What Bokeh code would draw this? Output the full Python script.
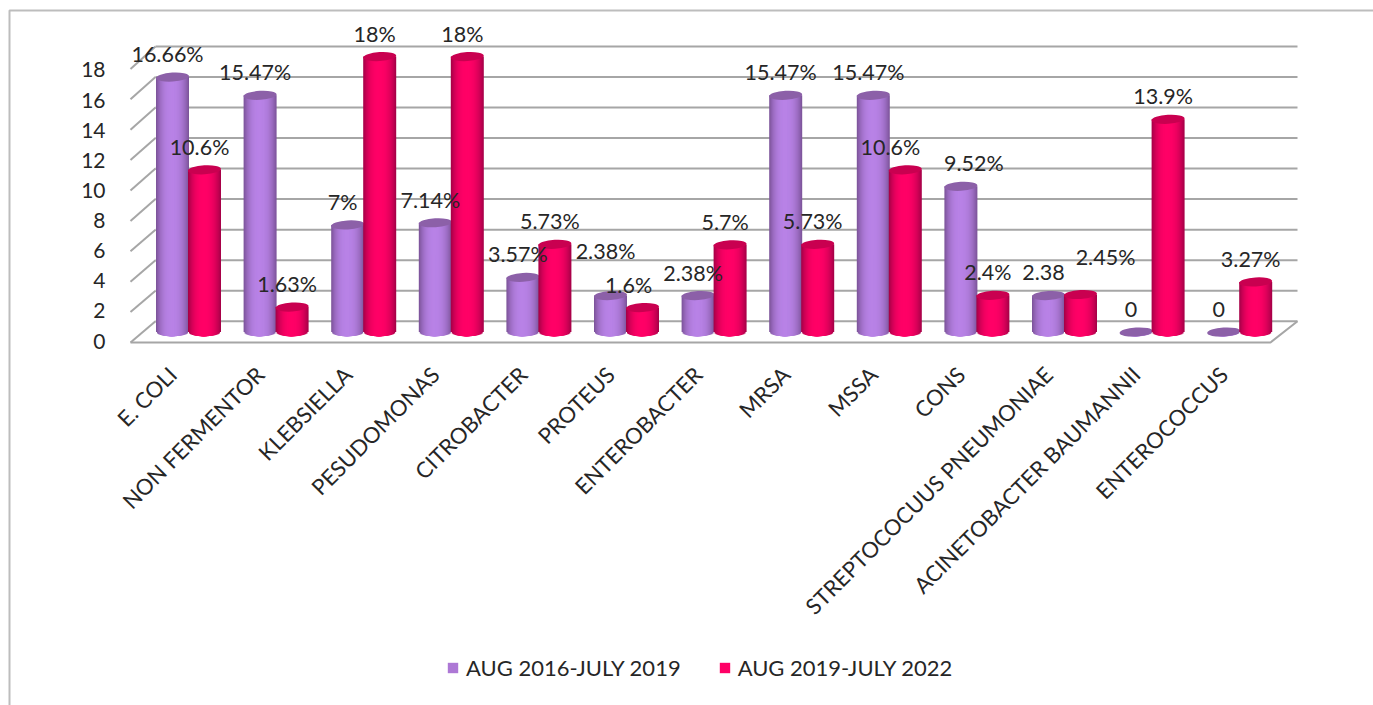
import numpy as np
from bokeh.core.properties import value
from bokeh.embed import file_html
from bokeh.models import (ColumnDataSource, FixedTicker, Legend, LegendItem, LinearAxis, Range1d)
from bokeh.plotting import figure
from bokeh.resources import INLINE

categories = ["E. COLI", "NON FERMENTOR", "KLEBSIELLA", "PESUDOMONAS", "CITROBACTER",
              "PROTEUS", "ENTEROBACTER", "MRSA", "MSSA", "CONS",
              "STREPTOCOCUUS PNEUMONIAE", "ACINETOBACTER BAUMANNII", "ENTEROCOCCUS"]
series_2016 = [16.66, 15.47, 7, 7.14, 3.57, 2.38, 2.38, 15.47, 15.47, 9.52, 2.38, 0, 0]
series_2019 = [10.6, 1.63, 18, 18, 5.73, 1.6, 5.7, 5.73, 10.6, 2.4, 2.45, 13.9, 3.27]
labels_2016 = ["16.66%", "15.47%", "7%", "7.14%", "3.57%", "2.38%", "2.38%", "15.47%",
               "15.47%", "9.52%", "2.38", "0", "0"]
labels_2019 = ["10.6%", "1.63%", "18%", "18%", "5.73%", "1.6%", "5.7%", "5.73%",
               "10.6%", "2.4%", "2.45%", "13.9%", "3.27%"]
name_2016 = "AUG 2016-JULY 2019"
name_2019 = "AUG 2019-JULY 2022"
y_ticks = list(range(0, 20, 2))

FONT = "Lato"
TEXT = "#262626"
GRID = "#a6a6a6"

# The plot frame fills the page, so all ranges below are anchored to page pixels
W, H = 1373, 705
GROUP0, GROUP_STEP = 188.0, 87.6
BASE_PX, UNIT_PX = 331.5, 15.3

p = figure(width=W, height=H, output_backend="svg", toolbar_location=None,
           x_range=Range1d(-GROUP0 / GROUP_STEP, (W - GROUP0) / GROUP_STEP),
           y_range=Range1d((BASE_PX - H) / UNIT_PX, BASE_PX / UNIT_PX),
           x_axis_type=None, y_axis_type=None, min_border=0, outline_line_color=None,
           background_fill_color="white", border_fill_color="white")
p.grid.visible = False

p.extra_x_ranges["px"] = Range1d(0, W)
p.extra_y_ranges["px"] = Range1d(H, 0)
p.extra_y_ranges["front"] = Range1d((340.5 - H) / 15.06, 340.5 / 15.06)
CAT_SHIFT = 16
p.extra_x_ranges["cat"] = Range1d((CAT_SHIFT - GROUP0) / GROUP_STEP, (W + CAT_SHIFT - GROUP0) / GROUP_STEP)


def back_y(v):
    return 320.7 - v * 15.26


def front_y(v):
    return 342.0 - v * 15.2


BACK_L, BACK_R, FRONT_L, FRONT_R = 155, 1297, 130, 1270

# Outer chart frame: its top and left edges are the ones inside the page
p.line([W, 9, 9], [10, 10, H], x_range_name="px", y_range_name="px", line_color="#bdbdbd", line_width=2)

# Back wall and side wall lines
ticks = np.array(y_ticks, dtype=float)
p.segment(x0=[BACK_L] * len(ticks), x1=[BACK_R] * len(ticks), y0=back_y(ticks), y1=back_y(ticks),
          x_range_name="px", y_range_name="px", line_color=GRID, line_width=2)
p.segment(x0=[FRONT_L] * len(ticks), x1=[BACK_L] * len(ticks), y0=front_y(ticks), y1=back_y(ticks),
          x_range_name="px", y_range_name="px", line_color=GRID, line_width=2)
# Floor
p.line([FRONT_L, FRONT_R, BACK_R], [front_y(0), front_y(0), back_y(0)],
       x_range_name="px", y_range_name="px", line_color=GRID, line_width=2)


def shade(rgb_mid, rgb_edge, s):
    t = s ** 2.6
    c = [int(round(m + (e - m) * t)) for m, e in zip(rgb_mid, rgb_edge)]
    return "#%02x%02x%02x" % tuple(c)


BAR_W = 33 / GROUP_STEP
CAP_H = 9 / UNIT_PX
N_LAYERS = 16
PEAK = -0.05


def cylinders(values, offset, mid, edge, cap):
    # Each cylinder is a stack of nested shells, outermost and darkest first
    lefts, rights, tops, bottoms, colors = [], [], [], [], []
    for i, v in enumerate(values):
        for k in range(N_LAYERS):
            s = 1 - k / N_LAYERS
            ul = PEAK + s * (-1 - PEAK)
            ur = PEAK + s * (1 - PEAK)
            lefts.append(i + offset + ul * BAR_W / 2)
            rights.append(i + offset + ur * BAR_W / 2)
            tops.append(v)
            bottoms.append(-CAP_H / 2 * np.sqrt(max(0.0, 1 - max(abs(ul), abs(ur)) ** 2)))
            colors.append(shade(mid, edge, s))
    body = p.quad(left="left", right="right", top="top", bottom="bottom", color="color", line_color=None,
                  source=ColumnDataSource(dict(left=lefts, right=rights, top=tops, bottom=bottoms, color=colors)))
    p.ellipse(x=[i + offset for i in range(len(values))], y=values, width=BAR_W, height=CAP_H,
              angle=0.06, fill_color=cap, line_color=None)
    return body


OFFSET = 16 / GROUP_STEP
cylinders(series_2016, -OFFSET, (0xb8, 0x82, 0xe6), (0x7e, 0x55, 0x9c), "#8c60a8")
cylinders(series_2019, OFFSET, (0xff, 0x00, 0x66), (0xa8, 0x00, 0x48), "#c90050")

# Data labels sit above their bars; a few were moved aside to avoid collisions
dx_2016 = [-5] * 13
dy_2016 = [-23] * 13
dx_2019 = [-5] * 13
dy_2019 = [-23] * 13
dy_2016[5] = -45
dx_2019[5] = -14
dx_2019[8] = -15
dx_2016[9] = 13
dx_2019[10] = 25
dy_2019[10] = -38
p.text(x=[i - OFFSET for i in range(13)], y=series_2016, text=labels_2016,
       x_offset=dx_2016, y_offset=dy_2016, text_font=value(FONT), text_font_size="21.5px",
       text_color=TEXT, text_align="center", text_baseline="middle")
p.text(x=[i + OFFSET for i in range(13)], y=series_2019, text=labels_2019,
       x_offset=dx_2019, y_offset=dy_2019, text_font=value(FONT), text_font_size="21.5px",
       text_color=TEXT, text_align="center", text_baseline="middle")

# Value axis, pinned just left of the 3D box
y_axis = LinearAxis(y_range_name="front", ticker=FixedTicker(ticks=y_ticks), axis_line_color=None,
                    major_tick_line_color=None, minor_tick_line_color=None, major_label_standoff=6,
                    major_label_text_font=FONT, major_label_text_font_size="21px",
                    major_label_text_color=TEXT, fixed_location=(117 - GROUP0) / GROUP_STEP)
p.add_layout(y_axis, "left")

# Category axis with slanted names, pinned just under the floor
x_axis = LinearAxis(x_range_name="cat", ticker=FixedTicker(ticks=list(range(13))), axis_line_color=None,
                    major_tick_line_color=None, minor_tick_line_color=None, major_label_standoff=20,
                    major_label_orientation=np.pi / 4, major_label_text_font=FONT,
                    major_label_text_font_size="22px", major_label_text_color=TEXT,
                    major_label_overrides={i: c for i, c in enumerate(categories)},
                    fixed_location=(BASE_PX - 344) / UNIT_PX)
p.add_layout(x_axis, "below")

# Legend swatches use the same colours as the bars' lit faces
sw_a = p.quad(left=[0], right=[0], top=[0], bottom=[0], color="#ad78d5", line_color=None)
sw_b = p.quad(left=[0], right=[0], top=[0], bottom=[0], color="#ff0066", line_color=None)
legend = Legend(items=[LegendItem(label=name_2016, renderers=[sw_a]), LegendItem(label=name_2019, renderers=[sw_b])],
                orientation="horizontal", location=(446, H - 681), border_line_color=None,
                background_fill_alpha=0, margin=0, padding=0, spacing=37,
                glyph_width=13, glyph_height=13, label_standoff=7, label_text_font=FONT,
                label_text_font_size="22px", label_text_color=TEXT, label_height=20)
p.add_layout(legend)

open("out.html", "w").write(file_html(p, INLINE))
